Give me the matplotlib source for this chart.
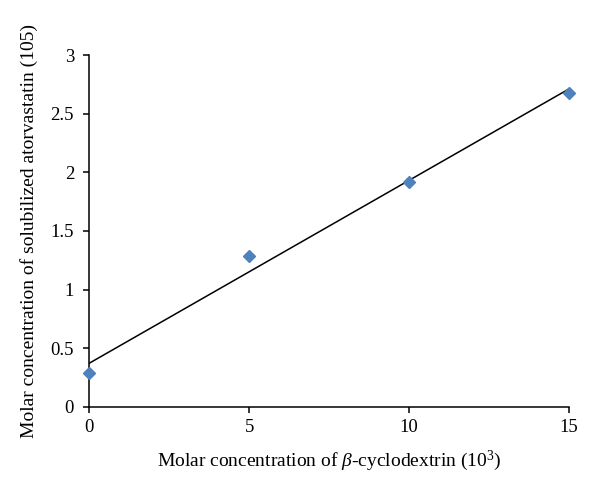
import matplotlib
matplotlib.use("Agg")
import matplotlib.pyplot as plt
import numpy as np

x_vals = [0, 5, 10, 15]
y_vals = [0.285, 1.288, 1.92, 2.674]
x_ticks = [0, 5, 10, 15]
y_ticks = [0, 0.5, 1, 1.5, 2, 2.5, 3]
y_ticklabels = ["0", "0.5", "1", "1.5", "2", "2.5", "3"]

plt.rcParams['font.family'] = ['Liberation Serif', 'DejaVu Serif']
plt.rcParams['mathtext.fontset'] = 'custom'
plt.rcParams['mathtext.rm'] = 'Liberation Serif'
plt.rcParams['mathtext.it'] = 'Liberation Serif:italic'

fig = plt.figure(figsize=(6, 4.93), dpi=100)
ax = fig.add_axes([0.149, 0.175, 0.799, 0.713])

slope, intercept = np.polyfit(x_vals, y_vals, 1)
xs = np.array([x_ticks[0], x_ticks[-1]])
ax.plot(xs, slope * xs + intercept, color='black', lw=1.1, zorder=2)
ax.plot(x_vals, y_vals, linestyle='none', marker='D', markersize=6.5,
        color='#4F81BD', zorder=3, clip_on=False)

ax.set_xlim(0, 15)
ax.set_ylim(0, 3)
ax.set_xticks(x_ticks)
ax.set_yticks(y_ticks)
ax.set_yticklabels(y_ticklabels)
for s in ['top', 'right']:
    ax.spines[s].set_visible(False)
for s in ['left', 'bottom']:
    ax.spines[s].set_linewidth(1.1)
ax.tick_params(direction='out', length=4, width=1.1, labelsize=13.5)
ax.tick_params(axis='y', pad=7)
ax.tick_params(axis='x', pad=5)

ax.set_xlabel(r'Molar concentration of $\mathit{\beta}$-cyclodextrin (10$^{3}$)', fontsize=14, labelpad=9)
ax.set_ylabel('Molar concentration of solubilized atorvastatin (105)', fontsize=14, labelpad=9)

fig.savefig('out.png', dpi=100)
